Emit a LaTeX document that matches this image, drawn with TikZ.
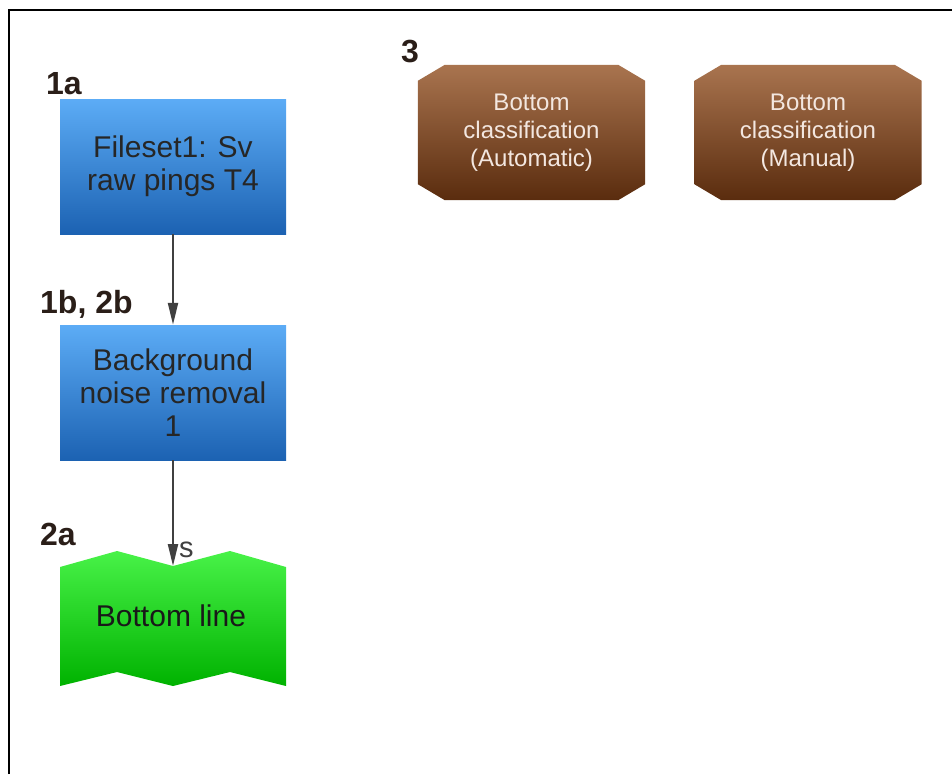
\documentclass[tikz,border=0pt]{standalone}
\usepackage{fontspec}
\setmainfont{Liberation Sans}
\usetikzlibrary{arrows.meta,calc}
\definecolor{bluetop}{HTML}{5CACF6}
\definecolor{bluebot}{HTML}{1C62B2}
\definecolor{greentop}{HTML}{48F248}
\definecolor{greenbot}{HTML}{00B200}
\definecolor{browntop}{HTML}{A9744F}
\definecolor{brownbot}{HTML}{5A2C0E}
\definecolor{labtext}{HTML}{2A1E18}
\definecolor{lightbrowntext}{HTML}{F3E7E0}
\definecolor{linegray}{HTML}{404040}
\tikzset{
  bluebox/.style={rectangle, minimum width=226pt, minimum height=135pt, top color=bluetop, bottom color=bluebot, draw=none, align=center, font=\fontsize{30}{33}\selectfont, text=black!85},
  brownbox/.style={rectangle, minimum width=227pt, minimum height=135pt, inner sep=0pt, align=center, font=\fontsize{24}{28}\selectfont, text=lightbrowntext},
  steplabel/.style={anchor=base west, font=\fontsize{32}{32}\selectfont\bfseries, text=labtext, inner sep=0pt},
  flowarrow/.style={draw=linegray, line width=2.2pt, -{Triangle[length=22pt,width=10pt]}},
}
\newcommand{\octback}[1]{%
  \shade[top color=browntop, bottom color=brownbot]
    ($(#1.north west)+(27,0)$) -- ($(#1.north east)+(-27,0)$) -- ($(#1.north east)+(0,16)$)
    -- ($(#1.south east)+(0,-16)$) -- ($(#1.south east)+(-27,0)$) -- ($(#1.south west)+(27,0)$)
    -- ($(#1.south west)+(0,-16)$) -- ($(#1.north west)+(0,16)$) -- cycle;}
\begin{document}
\begin{tikzpicture}[x=1pt,y=-1pt]
\useasboundingbox (0,0) rectangle (952,774);
% frame
\draw[line width=2pt] (9,774) -- (9,10) -- (952,10);
% step labels
\node[steplabel] (l1a) at (46,94) {1a};
\node[steplabel] (l1b) at (40,313) {1b, 2b};
\node[steplabel] (l2a) at (40,545) {2a};
\node[steplabel] (l3) at (401,62) {3};
% blue boxes
\node[bluebox] (b1) at (173,166.5) {Fileset1: Sv\\raw pings T4};
\node[bluebox] (b2) at (173,392.5) {Background\\noise removal\\1};
% green bottom line shape
\shade[top color=greentop, bottom color=greenbot]
  (60,567) -- (117,551) -- (173,566) -- (230,551) -- (286,567)
  -- (286,686) -- (230,672) -- (173,686) -- (117,672) -- (60,686) -- cycle;
\node[font=\fontsize{30}{33}\selectfont, text=black!90] (bl) at (171,616) {Bottom line};
\coordinate (bldip) at (173,566);
% brown boxes
\path (531.5,132.5) node[brownbox] (c1) {};
\path (808,132.5) node[brownbox] (c2) {};
\octback{c1}
\octback{c2}
\node[brownbox] (t1) at (c1) {Bottom\\classification\\(Automatic)};
\node[brownbox] (t2) at (c2) {Bottom\\classification\\(Manual)};
% connectors
\draw[flowarrow] (b1.south) -- (b2.north);
\draw[flowarrow] (b2.south) -- (bldip);
\node[font=\fontsize{29}{29}\selectfont, text=linegray, anchor=base west, inner sep=0pt] (slab) at (179,557) {s};
\end{tikzpicture}
\end{document}
